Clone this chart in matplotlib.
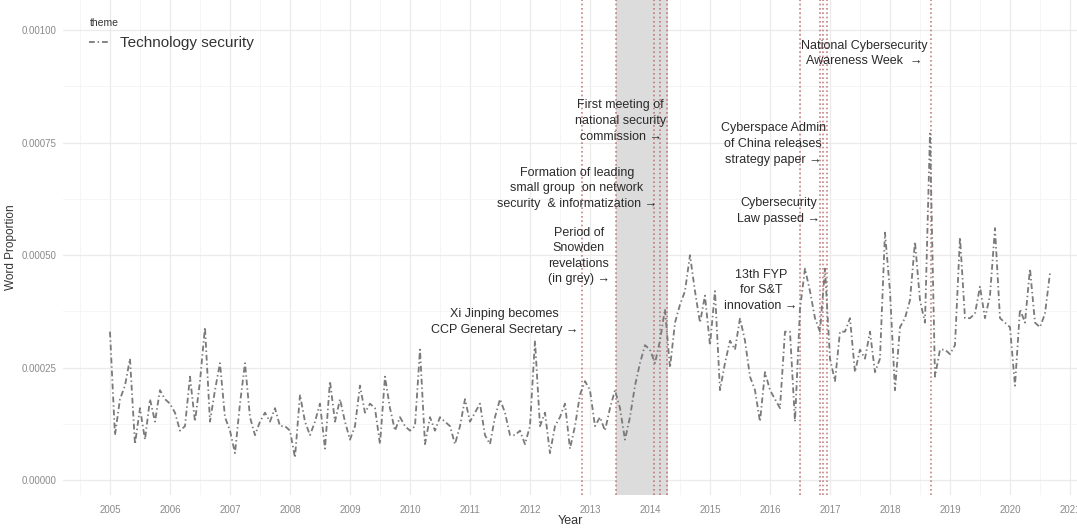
import numpy as np
import pandas as pd
import matplotlib
matplotlib.use("Agg")
import matplotlib.pyplot as plt

plt.rcParams['font.family'] = ['Liberation Sans', 'DejaVu Sans']

# monthly word proportion for the "Technology security" theme, Jan 2005 - Sep 2020
prop_2005 = [0.00033, 0.00010, 0.00018, 0.00021, 0.00027, 0.00008, 0.00016, 0.00009, 0.00018, 0.00013, 0.00020, 0.00018]
prop_2006 = [0.00017, 0.00015, 0.00011, 0.00012, 0.00023, 0.00013, 0.00022, 0.00034, 0.00013, 0.00020, 0.00026, 0.00014]
prop_2007 = [0.00011, 0.00006, 0.00017, 0.00026, 0.00014, 0.00010, 0.00013, 0.00015, 0.00013, 0.00016, 0.00012, 0.00012]
prop_2008 = [0.00011, 0.00005, 0.00019, 0.00013, 0.00010, 0.00013, 0.00017, 0.00007, 0.00022, 0.00013, 0.00018, 0.00013]
prop_2009 = [0.00009, 0.00012, 0.00021, 0.00015, 0.00017, 0.00016, 0.00008, 0.00023, 0.00016, 0.00011, 0.00014, 0.00012]
prop_2010 = [0.00011, 0.00012, 0.00029, 0.00008, 0.00014, 0.00011, 0.00014, 0.00013, 0.00012, 0.00008, 0.00012, 0.00018]
prop_2011 = [0.00013, 0.00015, 0.00017, 0.00010, 0.00008, 0.00014, 0.00018, 0.00015, 0.00010, 0.00010, 0.00011, 0.00008]
prop_2012 = [0.00012, 0.00031, 0.00012, 0.00015, 0.00006, 0.00012, 0.00014, 0.00017, 0.00007, 0.00012, 0.00019, 0.00022]
prop_2013 = [0.00020, 0.00012, 0.00014, 0.00011, 0.00016, 0.00020, 0.00016, 0.00009, 0.00014, 0.00021, 0.00026, 0.00030]
prop_2014 = [0.00029, 0.00026, 0.00031, 0.00038, 0.00025, 0.00035, 0.00039, 0.00042, 0.00050, 0.00042, 0.00035, 0.00041]
prop_2015 = [0.00030, 0.00042, 0.00020, 0.00026, 0.00031, 0.00029, 0.00036, 0.00031, 0.00023, 0.00020, 0.00013, 0.00024]
prop_2016 = [0.00020, 0.00018, 0.00016, 0.00033, 0.00033, 0.00013, 0.00038, 0.00047, 0.00042, 0.00036, 0.00033, 0.00047]
prop_2017 = [0.00027, 0.00022, 0.00033, 0.00033, 0.00036, 0.00024, 0.00029, 0.00027, 0.00033, 0.00024, 0.00027, 0.00055]
prop_2018 = [0.00042, 0.00020, 0.00034, 0.00036, 0.00040, 0.00053, 0.00040, 0.00035, 0.00077, 0.00023, 0.00029, 0.00029]
prop_2019 = [0.00028, 0.00030, 0.00054, 0.00036, 0.00036, 0.00037, 0.00043, 0.00036, 0.00041, 0.00056, 0.00036, 0.00035]
prop_2020 = [0.00034, 0.00021, 0.00038, 0.00035, 0.00047, 0.00035, 0.00034, 0.00037, 0.00046]

word_prop = (prop_2005 + prop_2006 + prop_2007 + prop_2008 + prop_2009 + prop_2010 +
             prop_2011 + prop_2012 + prop_2013 + prop_2014 + prop_2015 + prop_2016 +
             prop_2017 + prop_2018 + prop_2019 + prop_2020)
dates = pd.date_range("2005-01-01", periods=len(word_prop), freq="MS")
year_frac = dates.year + (dates.month - 1) / 12.0

# events (decimal year) and their labels
event_x = [2012.86, 2013.43, 2014.07, 2014.16, 2014.29, 2016.50, 2016.83, 2016.88, 2016.95, 2018.68]
snowden_start, snowden_end = 2013.43, 2014.30

label_text = [
    "Xi Jinping becomes\nCCP General Secretary \u2192",
    "Period of\nSnowden\nrevelations\n(in grey) \u2192",
    "Formation of leading\nsmall group  on network\nsecurity  & informatization \u2192",
    "First meeting of\nnational security\ncommission \u2192",
    "13th FYP\nfor S&T\ninnovation \u2192",
    "Cybersecurity\nLaw passed \u2192",
    "Cyberspace Admin\nof China releases\nstrategy paper \u2192",
    "National Cybersecurity\nAwareness Week  \u2192",
]
label_x = [2012.80, 2013.33, 2014.12, 2014.27, 2016.46, 2016.84, 2016.93, 2018.63]
label_y = [0.000352, 0.000498, 0.000649, 0.000798, 0.000422, 0.000598, 0.000747, 0.000948]

fig = plt.figure(figsize=(10.77, 5.29), dpi=100)
ax = fig.add_axes([0.0585, 0.064, 0.9415, 0.936])

ax.axvspan(snowden_start, snowden_end, color="#dcdcdc", zorder=1, lw=0)
for ex in event_x:
    ax.axvline(ex, color="#b35a5a", linestyle=(0, (1, 1.6)), lw=1.2, alpha=0.75, zorder=2)

ax.plot(year_frac, word_prop, color="#7a7a7a", lw=1.3, dashes=(3.2, 1.6, 0.8, 1.6),
        zorder=3, label="Technology security")

for t, x, y in zip(label_text, label_x, label_y):
    ax.text(x, y, t, ha="right", va="center", multialignment="center",
            fontsize=9, color="#2b2b2b", linespacing=1.4, zorder=4)

ax.set_xlim(2004.217, 2021.117)
ax.set_ylim(-0.0000333, 0.001067)
ax.set_xticks(np.arange(2005, 2022))
ax.set_xticklabels([str(y) for y in range(2005, 2022)])
ax.set_xticks(np.arange(2004.5, 2021.5, 1), minor=True)
ax.set_yticks([0, 0.00025, 0.0005, 0.00075, 0.001])
ax.set_yticklabels(["0.00000", "0.00025", "0.00050", "0.00075", "0.00100"])
ax.set_yticks([0.000125, 0.000375, 0.000625, 0.000875], minor=True)

ax.grid(which="major", color="#ebebeb", lw=0.9)
ax.grid(which="minor", color="#f4f4f4", lw=0.6)
ax.set_axisbelow(True)
for s in ax.spines.values():
    s.set_visible(False)
ax.tick_params(which="both", length=0)
ax.tick_params(axis="both", labelsize=7, labelcolor="#8a8a8a")
ax.tick_params(axis="x", pad=7)
ax.tick_params(axis="y", pad=5)

ax.set_xlabel("Year", fontsize=9, color="#333333", labelpad=0)
ax.set_ylabel("Word Proportion", fontsize=8.5, color="#333333", labelpad=3)

leg = ax.legend(loc="upper left", bbox_to_anchor=(0.02, 0.975), frameon=False,
                title="theme", title_fontsize=7.5, fontsize=11,
                handlelength=1.3, handletextpad=0.7, borderaxespad=0)
leg._legend_box.align = "left"
for t in leg.get_texts():
    t.set_color("#333333")
leg.get_title().set_color("#333333")

fig.savefig("out.png", dpi=100)
